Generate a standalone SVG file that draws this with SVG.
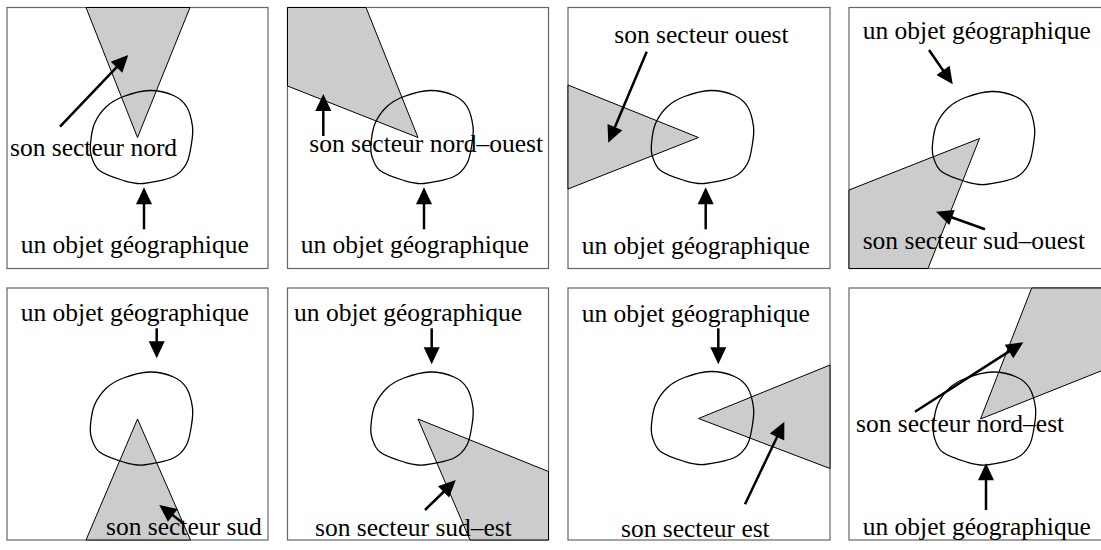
<svg xmlns="http://www.w3.org/2000/svg" xmlns:xlink="http://www.w3.org/1999/xlink" width="1101" height="550" viewBox="0 0 1101 550">
<style>
.frame{fill:#fff;stroke:#666;stroke-width:1.2}
.sector{fill:#cccccc;stroke:#000;stroke-width:1}
.blob{fill:none;stroke:#000;stroke-width:1.3}
.arr{stroke:#000;stroke-width:2.5;fill:none;marker-end:url(#ah)}
text{font-family:"Liberation Serif","Times New Roman",serif;font-size:25.5px;fill:#000}
</style>
<defs>
<marker id="ah" markerUnits="userSpaceOnUse" markerWidth="18" markerHeight="18" refX="2" refY="8" orient="auto" overflow="visible">
<path d="M0,0 L17,8 L0,16 z" fill="#000"/>
</marker>
<path id="blob" class="blob" d="M12,-47 C20.3,-47.2 29.8,-44.7 36,-42 C42.2,-39.3 45.8,-36.2 49,-31 C52.2,-25.8 54.2,-17.2 55,-11 C55.8,-4.8 55,-0.2 54,6 C53,12.2 52,20.5 49,26 C46,31.5 43.2,35.7 36,39 C28.8,42.3 14.3,45.3 6,46 C-2.3,46.7 -6.7,45.2 -14,43 C-21.3,40.8 -32.7,37 -38,33 C-43.3,29 -44.5,23.5 -46,19 C-47.5,14.5 -47.5,11.5 -47,6 C-46.5,0.5 -45.7,-7.8 -43,-14 C-40.3,-20.2 -35.8,-26.5 -31,-31 C-26.2,-35.5 -21.2,-38.3 -14,-41 C-6.8,-43.7 3.7,-46.8 12,-47 Z"/>
</defs>
<rect width="1101" height="550" fill="#fff"/>

<g id="panel-nord">
<rect class="frame" x="7" y="7.5" width="261" height="261"/>
<polygon class="sector" points="86,7.5 190,7.5 137.5,137.5"/>
<use xlink:href="#blob" href="#blob" transform="translate(137.5,137.5)"/>
<text x="10" y="156">son secteur nord</text>
<text x="20.7" y="253">un objet géographique</text>
</g>

<g id="panel-nord-ouest">
<rect class="frame" x="287.5" y="7.5" width="261" height="261"/>
<polygon class="sector" points="287.5,7.5 366,7.5 418,137.5 287.5,86"/>
<use xlink:href="#blob" href="#blob" transform="translate(418,137.5)"/>
<text x="309.3" y="151.7">son secteur nord–ouest</text>
<text x="300.7" y="253">un objet géographique</text>
</g>

<g id="panel-ouest">
<rect class="frame" x="568" y="7.5" width="262" height="261"/>
<polygon class="sector" points="568,85 698.5,137.5 568,189"/>
<use xlink:href="#blob" href="#blob" transform="translate(698.5,137.5)"/>
<text x="614.3" y="42.7">son secteur ouest</text>
<text x="581.7" y="254">un objet géographique</text>
</g>

<g id="panel-sud-ouest">
<rect class="frame" x="849" y="7.5" width="262" height="261"/>
<polygon class="sector" points="979.5,138.5 849,190 849,268.5 928,268.5"/>
<use xlink:href="#blob" href="#blob" transform="translate(979.5,138.5)"/>
<text x="862.7" y="39.3">un objet géographique</text>
<text x="862.7" y="249.3">son secteur sud–ouest</text>
</g>

<g id="panel-sud">
<rect class="frame" x="7" y="288" width="261" height="252"/>
<polygon class="sector" points="137.5,419 86,540 190.5,540"/>
<use xlink:href="#blob" href="#blob" transform="translate(137.5,419)"/>
<text x="20.7" y="321">un objet géographique</text>
<text x="106" y="535">son secteur sud</text>
</g>

<g id="panel-sud-est">
<rect class="frame" x="287.5" y="288" width="261" height="252"/>
<polygon class="sector" points="418,419 548.5,471.5 548.5,540 470,540"/>
<use xlink:href="#blob" href="#blob" transform="translate(418,419)"/>
<text x="294" y="321">un objet géographique</text>
<text x="315" y="535.7">son secteur sud–est</text>
</g>

<g id="panel-est">
<rect class="frame" x="568" y="288" width="262" height="252"/>
<polygon class="sector" points="698.5,418.5 830,365 830,468.5"/>
<use xlink:href="#blob" href="#blob" transform="translate(698.5,418.5)"/>
<text x="581.7" y="321.7">un objet géographique</text>
<text x="621" y="536.7">son secteur est</text>
</g>

<g id="panel-nord-est">
<rect class="frame" x="849" y="288" width="262" height="252"/>
<polygon class="sector" points="980.5,419 1031.7,288 1111,288 1111,367"/>
<use xlink:href="#blob" href="#blob" transform="translate(980.5,419)"/>
<text x="856" y="431.7">son secteur nord–est</text>
<text x="862.7" y="535">un objet géographique</text>
</g>

<g id="connectors">
<line class="arr" x1="60" y1="126.7" x2="117.9" y2="65.9"/>
<line class="arr" x1="144" y1="229.3" x2="144" y2="202.3"/>
<line class="arr" x1="323.3" y1="136" x2="323.3" y2="109"/>
<line class="arr" x1="424" y1="229.3" x2="424" y2="202.3"/>
<line class="arr" x1="646.7" y1="51.7" x2="614.1" y2="128.9"/>
<line class="arr" x1="705.7" y1="229.3" x2="705.7" y2="202.3"/>
<line class="arr" x1="929" y1="50" x2="944.2" y2="72"/>
<line class="arr" x1="985" y1="229.3" x2="950.1" y2="216.8"/>
<line class="arr" x1="156.7" y1="328.3" x2="156.7" y2="343.3"/>
<line class="arr" x1="183.3" y1="523.3" x2="171.2" y2="514.1"/>
<line class="arr" x1="431.7" y1="328.3" x2="431.7" y2="349.3"/>
<line class="arr" x1="425" y1="510" x2="445" y2="490.5"/>
<line class="arr" x1="718.3" y1="328.3" x2="718.3" y2="349.3"/>
<line class="arr" x1="745" y1="504.3" x2="777.9" y2="435.2"/>
<line class="arr" x1="915" y1="411.7" x2="1010.7" y2="350.4"/>
<line class="arr" x1="986" y1="510" x2="986" y2="478.3"/>
</g>
</svg>
